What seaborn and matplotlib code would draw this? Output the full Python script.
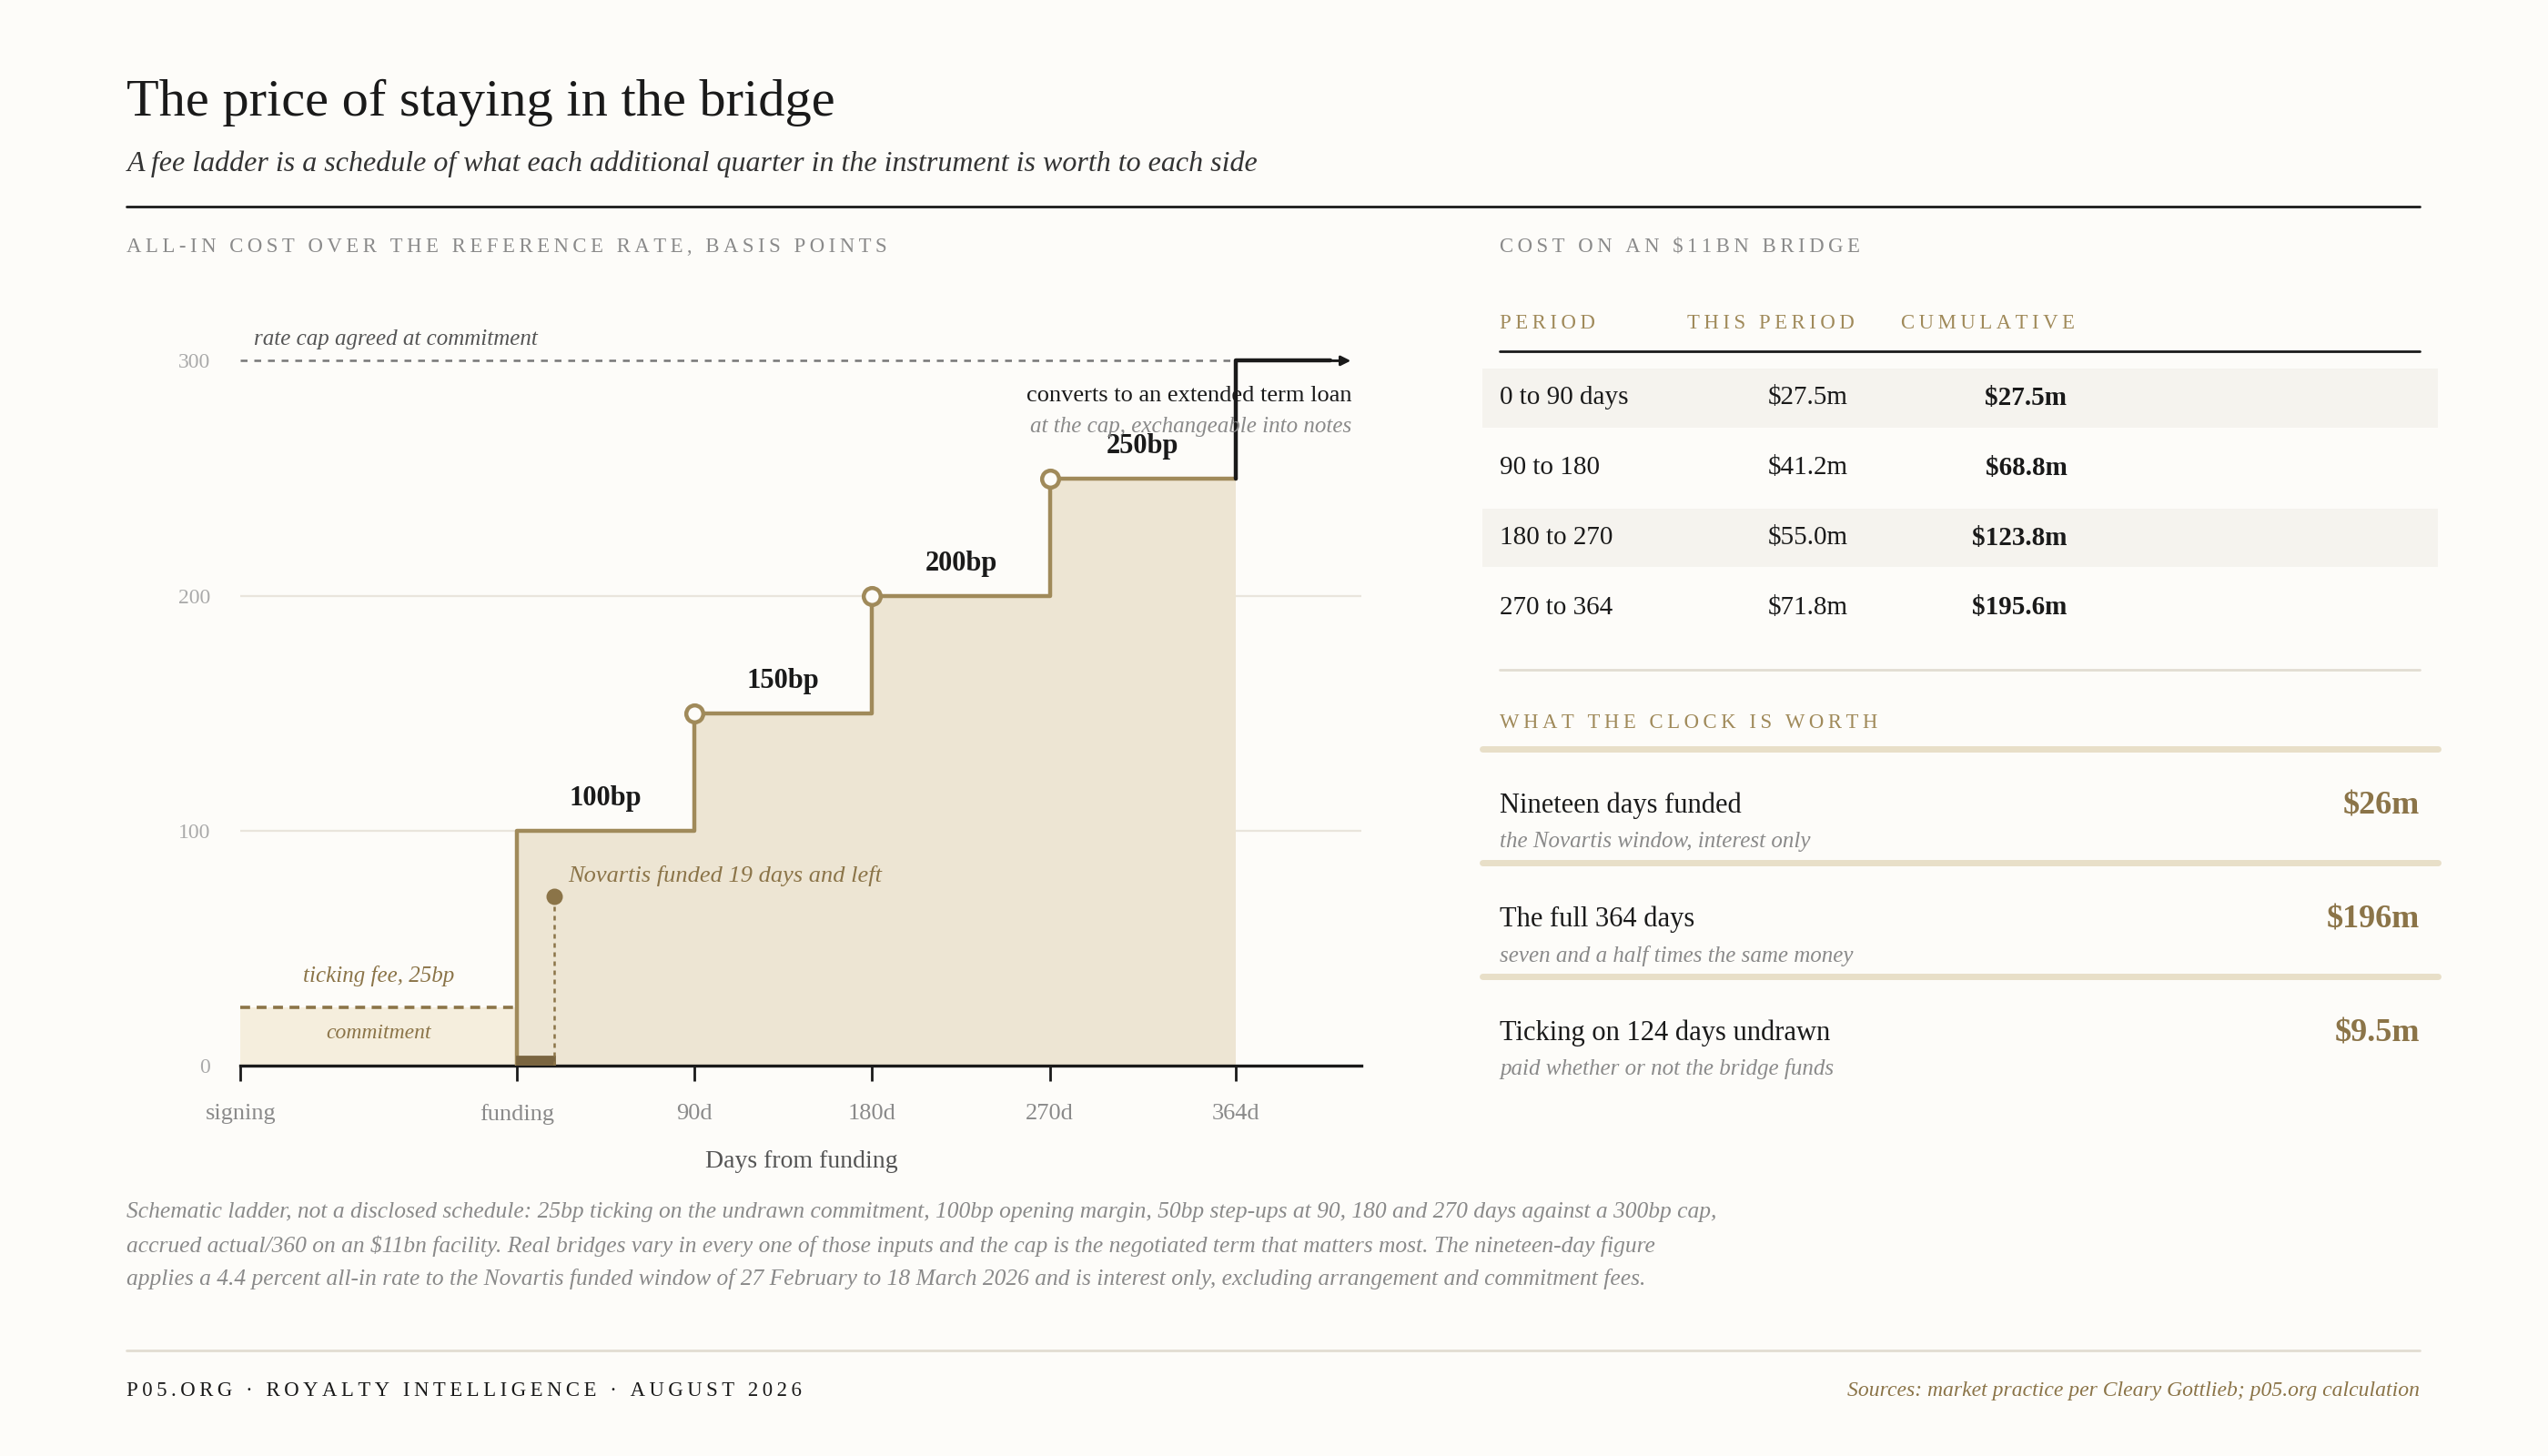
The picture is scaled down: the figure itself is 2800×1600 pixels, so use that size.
import numpy as np
import pandas as pd
import seaborn as sns
import matplotlib.pyplot as plt
from matplotlib.patches import Rectangle
from matplotlib.lines import Line2D

# data
step_starts = [0, 90, 180, 270]
step_ends = [90, 180, 270, 364]
step_bp = [100, 150, 200, 250]
step_labels = ['100bp', '150bp', '200bp', '250bp']
ticking_bp = 25
cap_bp = 300
signing_day = -140
novartis_days = 19
x_ticks = [-140, 0, 90, 180, 270, 364]
x_ticklabels = ['signing', 'funding', '90d', '180d', '270d', '364d']
y_ticks = [0, 100, 200, 300]

periods = ['0 to 90 days', '90 to 180', '180 to 270', '270 to 364']
this_period = ['$27.5m', '$41.2m', '$55.0m', '$71.8m']
cumulative = ['$27.5m', '$68.8m', '$123.8m', '$195.6m']

clock_titles = ['Nineteen days funded', 'The full 364 days', 'Ticking on 124 days undrawn']
clock_subs = ['the Novartis window, interest only', 'seven and a half times the same money',
              'paid whether or not the bridge funds']
clock_values = ['$26m', '$196m', '$9.5m']

BG = '#fdfcf9'
GOLD = '#a08a5a'
DARKGOLD = '#8b7448'
FILL = '#ede5d3'
GREY = '#8a8a8a'
INK = '#1a1a1a'

sns.set_theme(style='white')
plt.rcParams['font.family'] = ['Liberation Serif', 'DejaVu Serif']

fig = plt.figure(figsize=(14, 8), dpi=200, facecolor=BG)
W, H = 1568, 896
fx = lambda x: x / W
fy = lambda y: 1 - y / H


def tracked(s):
    # imitate letter-spaced small caps
    return '\u2009'.join(s)


ax = fig.add_axes([fx(148), fy(656), fx(838) - fx(148), fy(222) - fy(656)])
ax.set_facecolor(BG)
ax.set_xlim(signing_day, 428)
ax.set_ylim(0, cap_bp)

# grid
for v in [100, 200]:
    ax.axhline(v, color='#e9e5dc', lw=0.8, zorder=0)

# commitment period
ax.fill_between([signing_day, 0], 0, ticking_bp, color='#f5eedd', lw=0, zorder=1)
ax.plot([signing_day, 0], [ticking_bp, ticking_bp], ls=(0, (3, 2)), color=DARKGOLD, lw=1.3, zorder=3)
ax.text(-70, 14, 'commitment', ha='center', va='center', style='italic', fontsize=8.5, color=DARKGOLD)
ax.text(-70, 34, 'ticking fee, 25bp', ha='center', va='bottom', style='italic', fontsize=9, color=DARKGOLD)

# step ladder
sx = step_starts + [step_ends[-1]]
sy = step_bp + [step_bp[-1]]
ax.fill_between(sx, 0, sy, step='post', color=FILL, lw=0, zorder=1)
ax.step([0] + sx, [0] + sy, where='post', color=GOLD, lw=1.6, zorder=3)
ax.scatter(step_starts[1:], step_bp[1:], s=45, facecolor=BG, edgecolor=GOLD, lw=1.6, zorder=5)
for s, e, v, lab in zip(step_starts, step_ends, step_bp, step_labels):
    ax.text((s + e) / 2, v + 8, lab, ha='center', va='bottom', fontsize=11, fontweight='bold', color=INK)

# novartis
ax.add_patch(Rectangle((0, 0), novartis_days, 4, color='#7a6540', zorder=4))
ax.plot([novartis_days, novartis_days], [0, 72], ls=(0, (2, 2)), color=DARKGOLD, lw=0.9, zorder=4)
ax.scatter([novartis_days], [72], s=30, color=DARKGOLD, zorder=5)
ax.text(26, 81, 'Novartis funded 19 days and left', style='italic', fontsize=9.5, color=DARKGOLD, va='center')

# cap and conversion
ax.plot([signing_day, 420], [cap_bp, cap_bp], ls=(0, (3, 3)), color='#777777', lw=0.9, zorder=2, clip_on=False)
ax.text(-133, 305, 'rate cap agreed at commitment', style='italic', fontsize=9, color='#555555', va='bottom')
ax.plot([364, 364, 412], [step_bp[-1], cap_bp, cap_bp], color=INK, lw=1.6, zorder=6, clip_on=False)
ax.annotate('', xy=(425, cap_bp), xytext=(405, cap_bp), annotation_clip=False,
            arrowprops=dict(arrowstyle='-|>', color=INK, lw=1, mutation_scale=8))
ax.text(423, 285, 'converts to an extended term loan', ha='right', va='center', fontsize=9.5, color=INK, zorder=7)
ax.text(423, 272, 'at the cap, exchangeable into notes', ha='right', va='center', style='italic',
        fontsize=9, color=GREY, zorder=7)

# axes styling
sns.despine(ax=ax, left=True)
ax.spines['bottom'].set_color(INK)
ax.spines['bottom'].set_linewidth(1.2)
ax.set_xticks(x_ticks)
ax.set_xticklabels(x_ticklabels, fontsize=9.5, color=GREY)
ax.tick_params(axis='x', length=6, width=1, color=INK, pad=9, bottom=True)
ax.set_yticks(y_ticks)
ax.set_yticklabels([str(v) for v in y_ticks], fontsize=8.5, color='#aaaaaa')
ax.tick_params(axis='y', length=0, pad=12)
ax.set_xlabel('Days from funding', fontsize=10, color='#555555', labelpad=10)

# header
fig.text(fx(78), fy(63), 'The price of staying in the bridge', fontsize=21, color=INK, va='center')
fig.text(fx(78), fy(101), 'A fee ladder is a schedule of what each additional quarter in the instrument is worth to each side',
         fontsize=11.5, style='italic', color='#333333', va='center')
fig.add_artist(Line2D([fx(78), fx(1489)], [fy(127), fy(127)], color=INK, lw=1))
fig.text(fx(78), fy(152), tracked('ALL-IN COST OVER THE REFERENCE RATE, BASIS POINTS'), fontsize=8.2, color=GREY, va='center')
fig.text(fx(923), fy(152), tracked('COST ON AN $11BN BRIDGE'), fontsize=8.2, color=GREY, va='center')

# table
for x, lab in zip([923, 1038, 1170], ['PERIOD', 'THIS PERIOD', 'CUMULATIVE']):
    fig.text(fx(x), fy(199), tracked(lab), fontsize=8.2, color=GOLD, va='center')
fig.add_artist(Line2D([fx(923), fx(1489)], [fy(216), fy(216)], color=INK, lw=1))
for i, (p, t, c) in enumerate(zip(periods, this_period, cumulative)):
    yc = 245 + i * 43
    if i % 2 == 0:
        fig.add_artist(Rectangle((fx(912), fy(yc + 18)), fx(1500) - fx(912), fy(yc - 18) - fy(yc + 18),
                                 color='#f5f3ee', lw=0, transform=fig.transFigure))
    fig.text(fx(923), fy(yc), p, fontsize=10.5, color=INK, va='center')
    fig.text(fx(1137), fy(yc), t, fontsize=10.5, color=INK, va='center', ha='right')
    fig.text(fx(1272), fy(yc), c, fontsize=10.5, color=INK, va='center', ha='right', fontweight='bold')
fig.add_artist(Line2D([fx(923), fx(1489)], [fy(412), fy(412)], color='#e2ddd2', lw=1))

fig.text(fx(923), fy(445), tracked('WHAT THE CLOCK IS WORTH'), fontsize=8.2, color=GOLD, va='center')
for y in [461, 531, 601]:
    fig.add_artist(Line2D([fx(912), fx(1500)], [fy(y), fy(y)], color='#e8dfc8', lw=2.5))
for i, (t, s, v) in enumerate(zip(clock_titles, clock_subs, clock_values)):
    yc = 496 + i * 70
    fig.text(fx(923), fy(yc), t, fontsize=11, color=INK, va='center')
    fig.text(fx(923), fy(yc + 22), s, fontsize=9, style='italic', color=GREY, va='center')
    fig.text(fx(1489), fy(yc), v, fontsize=13, color=DARKGOLD, va='center', ha='right', fontweight='bold')

# footnote
note = ('Schematic ladder, not a disclosed schedule: 25bp ticking on the undrawn commitment, 100bp opening margin, '
        '50bp step-ups at 90, 180 and 270 days against a 300bp cap,\n'
        'accrued actual/360 on an $11bn facility. Real bridges vary in every one of those inputs and the cap is the '
        'negotiated term that matters most. The nineteen-day figure\n'
        'applies a 4.4 percent all-in rate to the Novartis funded window of 27 February to 18 March 2026 and is '
        'interest only, excluding arrangement and commitment fees.')
fig.text(fx(78), fy(740), note, fontsize=9.2, style='italic', color=GREY, va='top', linespacing=1.75)

fig.add_artist(Line2D([fx(78), fx(1489)], [fy(831), fy(831)], color='#e2ddd2', lw=1))
fig.text(fx(78), fy(856), tracked('P05.ORG · ROYALTY INTELLIGENCE · AUGUST 2026'), fontsize=8.2, color=INK, va='center')
fig.text(fx(1489), fy(856), 'Sources: market practice per Cleary Gottlieb; p05.org calculation', fontsize=8.5,
         style='italic', color=DARKGOLD, va='center', ha='right')

fig.savefig('out.png', dpi=200, facecolor=BG)
